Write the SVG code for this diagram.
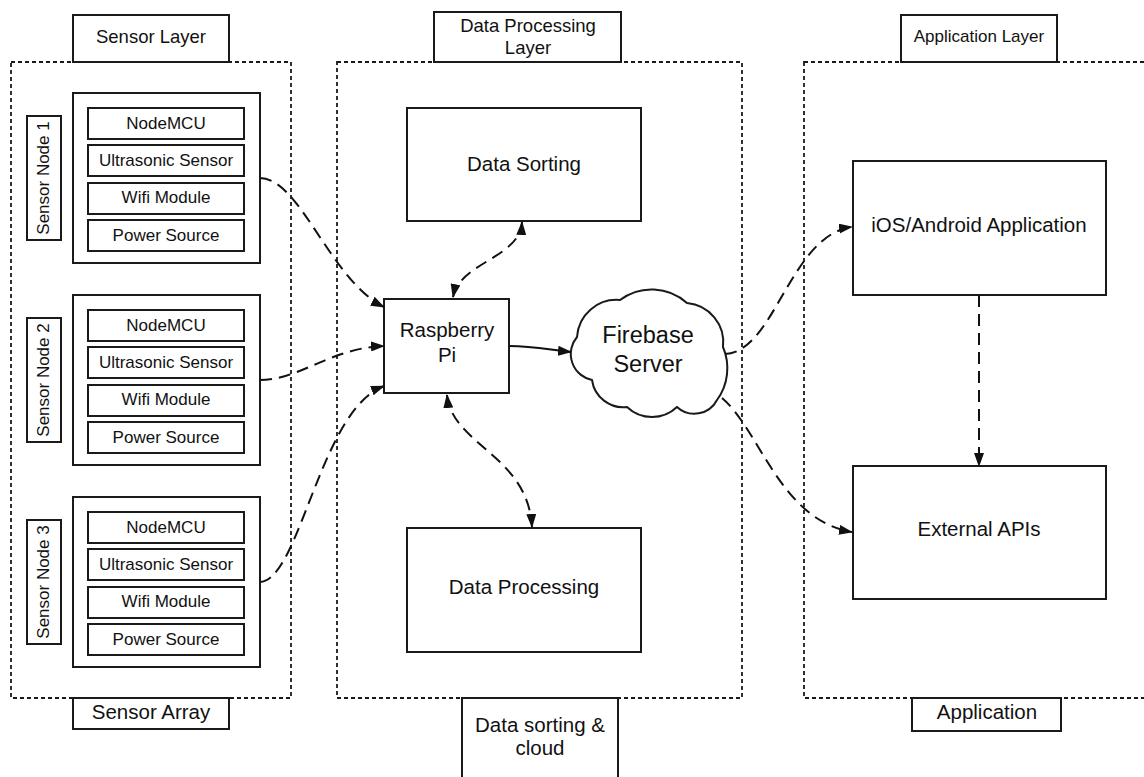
<svg xmlns="http://www.w3.org/2000/svg" width="1144" height="777" viewBox="0 0 1144 777">
<style>
  .bg{fill:#ffffff}
  .box{fill:#ffffff;stroke:#1a1a1a;stroke-width:2}
  .cont{fill:none;stroke:#1a1a1a;stroke-width:1.8;stroke-dasharray:4 3}
  .conn{fill:none;stroke:#111111;stroke-width:2;stroke-dasharray:12 7}
  .solid{fill:none;stroke:#111111;stroke-width:2}
  text{font-family:"Liberation Sans",Arial,sans-serif;fill:#111111;text-anchor:middle}
  .t17{font-size:17px}
  .t18{font-size:18.5px}
  .t20{font-size:20.5px}
  .t23{font-size:23.5px}
</style>
<defs>
  <marker id="arr" markerUnits="userSpaceOnUse" markerWidth="14" markerHeight="10" refX="13" refY="5" orient="auto-start-reverse" viewBox="0 0 14 10">
    <path d="M0,0 L14,5 L0,10 z" fill="#111111"/>
  </marker>
</defs>
<rect class="bg" x="0" y="0" width="1144" height="777"/>

<!-- Layer containers -->
<g id="sensor-layer-container">
  <rect class="cont" x="11" y="62" width="280" height="636"/>
</g>
<g id="data-layer-container">
  <rect class="cont" x="337" y="62" width="405" height="636"/>
</g>
<g id="app-layer-container">
  <rect class="cont" x="804" y="62" width="360" height="636"/>
</g>

<!-- Layer labels -->
<g id="label-sensor-layer">
  <rect class="box" x="73" y="15" width="156" height="47"/>
  <text class="t18" x="151" y="43">Sensor Layer</text>
</g>
<g id="label-data-processing-layer">
  <rect class="box" x="434" y="12" width="187" height="50"/>
  <text class="t18" x="528" y="32">Data Processing</text>
  <text class="t18" x="528" y="54">Layer</text>
</g>
<g id="label-application-layer">
  <rect class="box" x="901" y="15" width="156" height="47"/>
  <text class="t17" x="979" y="42">Application Layer</text>
</g>
<g id="label-sensor-array">
  <rect class="box" x="73" y="698" width="156" height="31"/>
  <text class="t20" x="151" y="719">Sensor Array</text>
</g>
<g id="label-data-sorting-cloud">
  <rect class="box" x="462" y="698" width="156" height="100"/>
  <text class="t20" x="540" y="732">Data sorting &amp;</text>
  <text class="t20" x="540" y="755">cloud</text>
</g>
<g id="label-application">
  <rect class="box" x="912" y="698" width="149" height="33"/>
  <text class="t20" x="987" y="719">Application</text>
</g>

<!-- Sensor nodes -->
<g id="sensor-node-1">
  <rect class="box" x="73" y="93" width="187" height="170"/>
  <rect class="box" x="27" y="116" width="34" height="124"/>
  <text class="t17" transform="translate(49,178) rotate(-90)">Sensor Node 1</text>
  <rect class="box" x="88" y="108" width="156" height="31"/>
  <text class="t17" x="166" y="129">NodeMCU</text>
  <rect class="box" x="88" y="145" width="156" height="31"/>
  <text class="t17" x="166" y="166">Ultrasonic Sensor</text>
  <rect class="box" x="88" y="183" width="156" height="31"/>
  <text class="t17" x="166" y="203">Wifi Module</text>
  <rect class="box" x="88" y="220" width="156" height="31"/>
  <text class="t17" x="166" y="241">Power Source</text>
</g>
<g id="sensor-node-2">
  <rect class="box" x="73" y="295" width="187" height="170"/>
  <rect class="box" x="27" y="318" width="34" height="124"/>
  <text class="t17" transform="translate(49,380) rotate(-90)">Sensor Node 2</text>
  <rect class="box" x="88" y="310" width="156" height="31"/>
  <text class="t17" x="166" y="331">NodeMCU</text>
  <rect class="box" x="88" y="347" width="156" height="31"/>
  <text class="t17" x="166" y="368">Ultrasonic Sensor</text>
  <rect class="box" x="88" y="385" width="156" height="31"/>
  <text class="t17" x="166" y="405">Wifi Module</text>
  <rect class="box" x="88" y="422" width="156" height="31"/>
  <text class="t17" x="166" y="443">Power Source</text>
</g>
<g id="sensor-node-3">
  <rect class="box" x="73" y="497" width="187" height="170"/>
  <rect class="box" x="27" y="520" width="34" height="124"/>
  <text class="t17" transform="translate(49,582) rotate(-90)">Sensor Node 3</text>
  <rect class="box" x="88" y="512" width="156" height="31"/>
  <text class="t17" x="166" y="533">NodeMCU</text>
  <rect class="box" x="88" y="549" width="156" height="31"/>
  <text class="t17" x="166" y="570">Ultrasonic Sensor</text>
  <rect class="box" x="88" y="587" width="156" height="31"/>
  <text class="t17" x="166" y="607">Wifi Module</text>
  <rect class="box" x="88" y="624" width="156" height="31"/>
  <text class="t17" x="166" y="645">Power Source</text>
</g>

<!-- Data processing layer nodes -->
<g id="data-sorting">
  <rect class="box" x="407" y="108" width="234" height="113"/>
  <text class="t20" x="524" y="171">Data Sorting</text>
</g>
<g id="raspberry-pi">
  <rect class="box" x="384" y="299" width="125" height="94"/>
  <text class="t20" x="447" y="337">Raspberry</text>
  <text class="t20" x="447" y="362">Pi</text>
</g>
<g id="data-processing">
  <rect class="box" x="407" y="528" width="234" height="124"/>
  <text class="t20" x="524" y="594">Data Processing</text>
</g>
<g id="firebase-server">
  <path class="box" d="M577,337 A39.6,39.6 0 0 1 620,300 A52.8,52.8 0 0 1 687,303 A39.6,39.6 0 0 1 723,347 A54,54 0 0 1 717,400 A25.6,25.6 0 0 1 677,407 A36.25,36.25 0 0 1 627,407 A31.6,31.6 0 0 1 592,380 A26.5,26.5 0 0 1 577,337 Z"/>
  <text class="t23" x="648" y="343">Firebase</text>
  <text class="t23" x="648" y="372">Server</text>
</g>

<!-- Application layer nodes -->
<g id="mobile-app">
  <rect class="box" x="853" y="161" width="253" height="134"/>
  <text class="t20" x="979" y="232">iOS/Android Application</text>
</g>
<g id="external-apis">
  <rect class="box" x="853" y="466" width="253" height="133"/>
  <text class="t20" x="979" y="536">External APIs</text>
</g>

<!-- Connectors -->
<g id="connectors">
  <path class="conn" d="M260,178 C300,178 330,280 384,307" marker-end="url(#arr)"/>
  <path class="conn" d="M260,380 C300,380 330,348 384,346" marker-end="url(#arr)"/>
  <path class="conn" d="M260,582 C300,580 320,410 384,386" marker-end="url(#arr)"/>
  <path class="conn" d="M453,297 C460,262 520,258 522,222" marker-start="url(#arr)" marker-end="url(#arr)"/>
  <path class="conn" d="M447,395 C452,445 528,455 532,527" marker-start="url(#arr)" marker-end="url(#arr)"/>
  <path class="solid" d="M509,346 C535,346 550,350 571,352" marker-end="url(#arr)"/>
  <path class="conn" d="M725,354 C775,352 790,235 852,227" marker-end="url(#arr)"/>
  <path class="conn" d="M722,398 C760,430 780,520 852,532" marker-end="url(#arr)"/>
  <path class="conn" d="M979,295 L979,466" marker-end="url(#arr)"/>
</g>
</svg>
